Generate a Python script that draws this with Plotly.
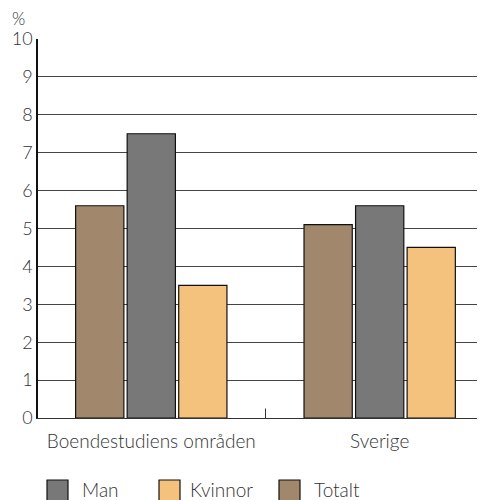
import plotly.graph_objects as go

categories = ["Boendestudiens områden", "Sverige"]
totalt = [5.6, 5.1]
man = [7.5, 5.6]
kvinnor = [3.5, 4.5]
y_ticks = [0, 1, 2, 3, 4, 5, 6, 7, 8, 9, 10]
y_labels = ["0", "1", "2", "3", "4", "5", "6", "7", "8", "9", "10"]
legend_order = ["Man", "Kvinnor", "Totalt"]

FONT = "Lato, Open Sans, sans-serif"
OFF = 8  # default page body margin in the browser
W, H = 485, 500
ML, MR, MT, MB = 38 - OFF, 0, 39 - OFF, H - (418 - OFF)
PW, PH = W - ML - MR, H - MT - MB

colors = {"Totalt": "#A1876B", "Man": "#787878", "Kvinnor": "#F4C27D"}
fig = go.Figure()
for name, vals in [("Totalt", totalt), ("Man", man), ("Kvinnor", kvinnor)]:
    fig.add_trace(go.Bar(x=[0, 1], y=vals, name=name, showlegend=False,
                         marker=dict(color=colors[name], line=dict(color="#111", width=1.2))))

def px_x(p):
    return (p - OFF - ML) / PW

def px_y(p):
    return (H - MB - (p - OFF)) / PH

shapes = [dict(type="line", xref="x", yref="paper", x0=0.5, x1=0.5, y0=0, y1=0.025,
               line=dict(color="#333", width=1))]
annotations = [dict(text="%", xref="paper", yref="paper", x=px_x(18), y=px_y(18),
                    xanchor="center", yanchor="middle", showarrow=False,
                    font=dict(size=17, color="#333", weight=300))]
leg_box = {"Man": 47, "Kvinnor": 159, "Totalt": 279}
leg_txt = {"Man": 80, "Kvinnor": 188, "Totalt": 312}
for name in legend_order:
    x0 = leg_box[name]
    shapes.append(dict(type="rect", xref="paper", yref="paper",
                       x0=px_x(x0), x1=px_x(x0 + 21), y0=px_y(480), y1=px_y(501),
                       fillcolor=colors[name], line=dict(color="#111", width=1.2)))
    annotations.append(dict(text=name, xref="paper", yref="paper", x=px_x(leg_txt[name]),
                            y=px_y(489), xanchor="left", yanchor="middle", showarrow=False,
                            font=dict(size=19, color="#333", weight=300)))

unit_px = 228.4
x0r = -0.496
fig.update_layout(
    width=W, height=H,
    margin=dict(l=ML, r=MR, t=MT, b=MB, autoexpand=False),
    paper_bgcolor="white", plot_bgcolor="white",
    font=dict(family=FONT, size=16, color="#333", weight=300),
    barmode="group", bargap=0.323, bargroupgap=0.064,
    showlegend=False,
    xaxis=dict(range=[x0r, x0r + PW / unit_px], tickvals=[0, 1], ticktext=categories,
               showgrid=False, showline=True, linecolor="#333", linewidth=1,
               ticks="", tickfont=dict(size=19, weight=300), zeroline=False,
               automargin=False, ticklabelstandoff=6),
    yaxis=dict(range=[0, 10], tickvals=y_ticks, ticktext=y_labels,
               showgrid=True, gridcolor="#444", gridwidth=1,
               showline=True, linecolor="#111", linewidth=1.5,
               ticks="", tickfont=dict(size=18, weight=300), zeroline=False,
               automargin=False),
    annotations=annotations,
    shapes=shapes,
)
fig.write_html("out.html")
